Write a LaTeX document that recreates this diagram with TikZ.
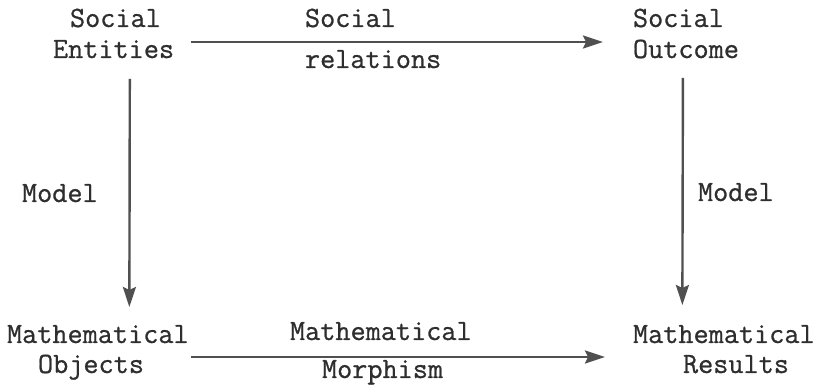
\documentclass[tikz,border=0pt]{standalone}
\usepackage{fontspec}
\newfontfamily\typew[FakeBold=0.8]{Latin Modern Mono}
\usetikzlibrary{arrows.meta}
\definecolor{ink}{HTML}{2E2E2E}
\definecolor{lineink}{HTML}{505050}
\tikzset{
  lbl/.style={anchor=base west, inner sep=0pt, outer sep=0pt, text height=32pt, text depth=0pt,
    text=ink, font=\typew\fontsize{29.4}{34}\selectfont},
  arr/.style={draw=lineink, line width=2.4pt, -{Stealth[length=20pt, width=13pt, inset=3pt]}}
}
\begin{document}
\begin{tikzpicture}[x=1pt, y=1pt]
\useasboundingbox (0,0) rectangle (823,391);
% top left
\node[lbl] (s1) at (70,364) {Social};
\node[lbl] (ent) at (53,333) {Entities};
% top middle
\node[lbl] (s2) at (305,364) {Social};
\node[lbl] (rel) at (305,323) {relations};
% top right
\node[lbl] (s3) at (633,364) {Social};
\node[lbl] (out) at (633,333) {Outcome};
% side labels
\node[lbl] (m1) at (22,189) {Model};
\node[lbl] (m2) at (698,190) {Model};
% bottom left
\node[lbl] (mo1) at (7,48) {Mathematical};
\node[lbl] (obj) at (38,18) {Objects};
% bottom middle
\node[lbl] (mm1) at (290,51) {Mathematical};
\node[lbl] (morph) at (322,13) {Morphism};
% bottom right
\node[lbl] (mr1) at (633,48) {Mathematical};
\node[lbl] (res) at (683,18) {Results};
% arrows
\draw[arr, shorten <=16.6pt, shorten >=30pt] (ent.east) -- (out.west);
\draw[arr, shorten <=47pt, shorten >=78pt] (obj.east) -- (res.west);
\draw[arr, shorten <=21pt, shorten >=4pt] ([xshift=16.3pt]ent.south) -- ([xshift=31.5pt]mo1.north);
\draw[arr, shorten <=20pt, shorten >=6pt] ([xshift=-3pt]out.south) -- ([xshift=-41.5pt]mr1.north);
\end{tikzpicture}
\end{document}
